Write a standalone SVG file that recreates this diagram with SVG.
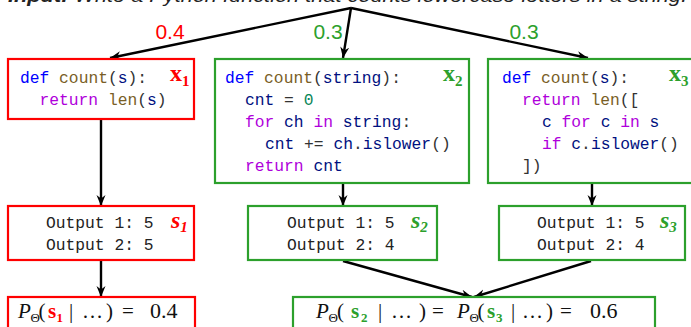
<svg xmlns="http://www.w3.org/2000/svg" width="691" height="327" viewBox="0 0 691 327">
  <style>
    .bg { fill: #ffffff; }
    .box { fill: #ffffff; stroke-width: 2.2; }
    .red { stroke: #ff0000; }
    .grn { stroke: #2ca02c; }
    .edge { stroke: #000000; stroke-width: 2.4; fill: none; }
    .code { font-family: "Liberation Mono", "DejaVu Sans Mono", monospace; font-size: 16.3px; fill: #333333; white-space: pre; }
    .kw { fill: #0000ff; }
    .fn { fill: #795e26; }
    .var { fill: #001080; }
    .ctl { fill: #af00db; }
    .num { fill: #098658; }
    .out { font-family: "Liberation Mono", "DejaVu Sans Mono", monospace; font-size: 16.3px; fill: #222222; white-space: pre; }
    .tag { font-family: "Liberation Serif", "DejaVu Serif", serif; font-weight: bold; font-size: 24px; }
    .sub { font-size: 15px; }
    .prob { font-family: "Liberation Sans", "DejaVu Sans", sans-serif; font-size: 21px; }
    .math { font-family: "Liberation Serif", "DejaVu Serif", serif; font-size: 21px; fill: #111111; }
    .msub { font-size: 13px; }
    .val { font-size: 22px; }
    .title { font-family: "Liberation Sans", "DejaVu Sans", sans-serif; font-size: 19px; font-style: italic; fill: #222222; }
  </style>
  <defs>
    <marker id="stealth" markerUnits="userSpaceOnUse" markerWidth="12" markerHeight="10" refX="11" refY="5" orient="auto">
      <path d="M0,0.5 L11,5 L0,9.5 L3.5,5 Z" fill="#000000"/>
    </marker>
  </defs>

  <rect class="bg" x="0" y="0" width="691" height="327"/>

  <!-- prompt line, clipped at the top edge -->
  <text class="title" x="8" y="2" textLength="679" lengthAdjust="spacingAndGlyphs"><tspan font-weight="bold">Input:</tspan> Write a Python function that counts lowercase letters in a string.</text>

  <!-- connectors -->
  <g id="connectors">
    <line class="edge" x1="351" y1="8" x2="110" y2="58" marker-end="url(#stealth)"/>
    <line class="edge" x1="351" y1="8" x2="343" y2="58" marker-end="url(#stealth)"/>
    <line class="edge" x1="351" y1="8" x2="588" y2="58" marker-end="url(#stealth)"/>
    <line class="edge" x1="101" y1="120" x2="101" y2="206" marker-end="url(#stealth)"/>
    <line class="edge" x1="343" y1="184" x2="343" y2="206" marker-end="url(#stealth)"/>
    <line class="edge" x1="592" y1="184" x2="592" y2="206" marker-end="url(#stealth)"/>
    <line class="edge" x1="101" y1="261" x2="101" y2="297" marker-end="url(#stealth)"/>
    <line class="edge" x1="343" y1="261" x2="472" y2="297" marker-end="url(#stealth)"/>
    <line class="edge" x1="591" y1="261" x2="474" y2="297" marker-end="url(#stealth)"/>
    <text class="prob" x="170" y="39" text-anchor="middle" fill="#ff0000">0.4</text>
    <text class="prob" x="328" y="39" text-anchor="middle" fill="#2ca02c">0.3</text>
    <text class="prob" x="524" y="39" text-anchor="middle" fill="#2ca02c">0.3</text>
  </g>

  <!-- program 1 -->
  <g id="prog1">
    <rect class="box red" x="8" y="59" width="186" height="60"/>
    <text class="code" x="20" y="83"><tspan class="kw">def</tspan> <tspan class="fn">count</tspan>(<tspan class="var">s</tspan>):</text>
    <text class="code" x="39.5" y="105"><tspan class="ctl">return</tspan> <tspan class="fn">len</tspan>(<tspan class="var">s</tspan>)</text>
    <text class="tag" x="170" y="81" fill="#ff0000">x<tspan class="sub" dy="5">1</tspan></text>
  </g>

  <!-- program 2 -->
  <g id="prog2">
    <rect class="box grn" x="215" y="59" width="254" height="124"/>
    <text class="code" x="225" y="83"><tspan class="kw">def</tspan> <tspan class="fn">count</tspan>(<tspan class="var">string</tspan>):</text>
    <text class="code" x="245" y="105"><tspan class="var">cnt</tspan> = <tspan class="num">0</tspan></text>
    <text class="code" x="245" y="127"><tspan class="ctl">for</tspan> <tspan class="var">ch</tspan> <tspan class="ctl">in</tspan> <tspan class="var">string</tspan>:</text>
    <text class="code" x="265" y="149"><tspan class="var">cnt</tspan> += <tspan class="var">ch</tspan>.<tspan class="var">islower</tspan>()</text>
    <text class="code" x="245" y="171"><tspan class="ctl">return</tspan> <tspan class="var">cnt</tspan></text>
    <text class="tag" x="443" y="81" fill="#2ca02c">x<tspan class="sub" dy="5">2</tspan></text>
  </g>

  <!-- program 3 -->
  <g id="prog3">
    <rect class="box grn" x="488" y="59" width="206" height="124"/>
    <text class="code" x="502" y="83"><tspan class="kw">def</tspan> <tspan class="fn">count</tspan>(<tspan class="var">s</tspan>):</text>
    <text class="code" x="522" y="105"><tspan class="ctl">return</tspan> <tspan class="fn">len</tspan>([</text>
    <text class="code" x="542" y="127"><tspan class="var">c</tspan> <tspan class="ctl">for</tspan> <tspan class="var">c</tspan> <tspan class="ctl">in</tspan> <tspan class="var">s</tspan></text>
    <text class="code" x="542" y="149"><tspan class="ctl">if</tspan> <tspan class="var">c</tspan>.<tspan class="var">islower</tspan>()</text>
    <text class="code" x="522" y="171">])</text>
    <text class="tag" x="669" y="81" fill="#2ca02c">x<tspan class="sub" dy="5">3</tspan></text>
  </g>

  <!-- outputs -->
  <g id="out1">
    <rect class="box red" x="8" y="206" width="186" height="54"/>
    <text class="out" x="46" y="228">Output 1: 5</text>
    <text class="out" x="46" y="250">Output 2: 5</text>
    <text class="tag" x="171" y="228" fill="#ff0000" font-style="italic">s<tspan class="sub" dy="4">1</tspan></text>
  </g>
  <g id="out2">
    <rect class="box grn" x="248" y="206" width="189" height="54"/>
    <text class="out" x="287" y="228">Output 1: 5</text>
    <text class="out" x="287" y="250">Output 2: 4</text>
    <text class="tag" x="411" y="228" fill="#2ca02c" font-style="italic">s<tspan class="sub" dy="4">2</tspan></text>
  </g>
  <g id="out3">
    <rect class="box grn" x="499" y="206" width="186" height="54"/>
    <text class="out" x="537" y="228">Output 1: 5</text>
    <text class="out" x="537" y="250">Output 2: 4</text>
    <text class="tag" x="660" y="228" fill="#2ca02c" font-style="italic">s<tspan class="sub" dy="4">3</tspan></text>
  </g>

  <!-- probabilities -->
  <g id="prob1">
    <rect class="box red" x="8" y="297" width="187" height="40"/>
    <text class="math" y="318"><tspan x="18" font-style="italic">P</tspan><tspan x="30.5" dy="4" class="msub">Θ</tspan><tspan x="38.5" dy="-4">(</tspan><tspan x="48" font-weight="bold" fill="#ff0000">s</tspan><tspan x="56.5" dy="4" class="msub" font-weight="bold" fill="#ff0000">1</tspan><tspan x="69" dy="-4">|</tspan><tspan x="82">…</tspan><tspan x="106">)</tspan><tspan x="122">=</tspan><tspan x="150" class="val">0.4</tspan></text>
  </g>
  <g id="prob23">
    <rect class="box grn" x="293" y="297" width="362" height="40"/>
    <text class="math" y="318"><tspan x="316" font-style="italic">P</tspan><tspan x="328.5" dy="4" class="msub">Θ</tspan><tspan x="337" dy="-4">(</tspan><tspan x="351" font-weight="bold" fill="#2ca02c">s</tspan><tspan x="361" dy="4" class="msub" font-weight="bold" fill="#2ca02c">2</tspan><tspan x="378" dy="-4">|</tspan><tspan x="391">…</tspan><tspan x="419">)</tspan><tspan x="432">=</tspan><tspan x="457" font-style="italic">P</tspan><tspan x="469.5" dy="4" class="msub">Θ</tspan><tspan x="477.5" dy="-4">(</tspan><tspan x="487" font-weight="bold" fill="#2ca02c">s</tspan><tspan x="496" dy="4" class="msub" font-weight="bold" fill="#2ca02c">3</tspan><tspan x="511" dy="-4">|</tspan><tspan x="522">…</tspan><tspan x="546">)</tspan><tspan x="560">=</tspan><tspan x="590" class="val">0.6</tspan></text>
  </g>
</svg>
